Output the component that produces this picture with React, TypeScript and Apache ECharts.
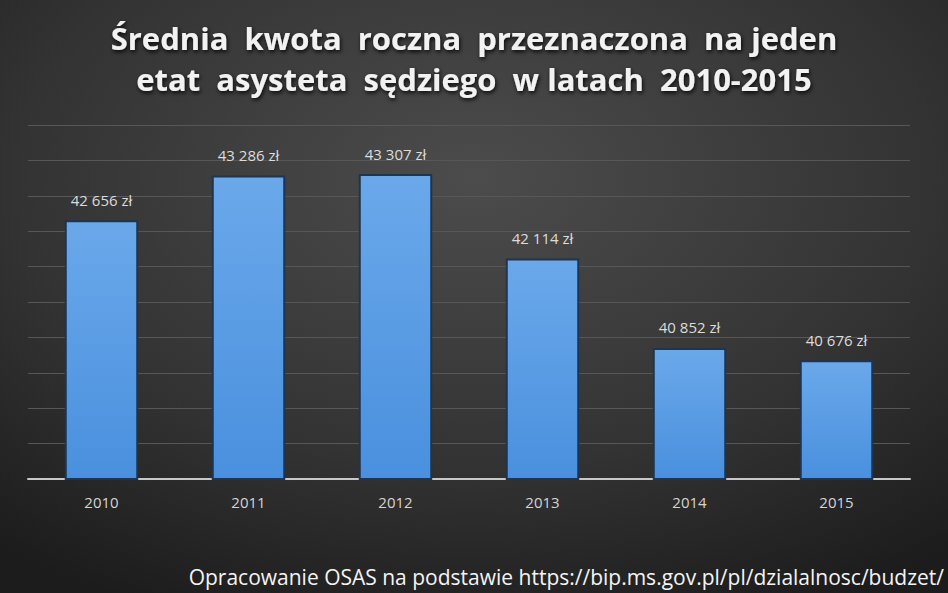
import React, { useEffect, useRef } from "react";
import * as echarts from "echarts";

const categories = ["2010", "2011", "2012", "2013", "2014", "2015"];
const values = [42656, 43286, 43307, 42114, 40852, 40676];
const titleLines = [
  "Średnia  kwota  roczna  przeznaczona  na jeden",
  "etat  asysteta  sędziego  w latach  2010-2015",
];
const sourceText = "Opracowanie OSAS na podstawie https://bip.ms.gov.pl/pl/dzialalnosc/budzet/";

const fmt = (v: number) => {
  const s = String(v);
  return s.slice(0, s.length - 3) + " " + s.slice(s.length - 3) + " zł";
};

export default function App() {
  const ref = useRef<HTMLDivElement>(null);
  useEffect(() => {
    document.body.style.margin = "0";
    const chart = echarts.init(ref.current!, null, { renderer: "svg" });
    chart.setOption({
      animation: false,
      backgroundColor: {
        type: "radial",
        x: 0.5,
        y: 0.3,
        r: 0.8,
        colorStops: [
          { offset: 0, color: "#4c4c4c" },
          { offset: 0.6, color: "#333333" },
          { offset: 1, color: "#1c1c1c" },
        ],
      },
      title: {
        text: titleLines.join("\n"),
        left: "center",
        top: 12,
        textStyle: {
          color: "#f2f2f2",
          fontFamily: "Open Sans",
          fontWeight: "bold",
          fontSize: 31,
          lineHeight: 41,
          textShadowColor: "rgba(0,0,0,0.9)",
          textShadowBlur: 4,
          textShadowOffsetX: 1,
          textShadowOffsetY: 2,
        },
      },
      grid: { left: 28, right: 38, top: 125, bottom: 114 },
      xAxis: {
        type: "category",
        data: categories,
        axisLine: { lineStyle: { color: "#c8c8c8", width: 2 } },
        axisTick: { show: false },
        axisLabel: {
          color: "#d4d4d4",
          fontFamily: "Open Sans",
          fontSize: 15,
          margin: 15,
        },
      },
      yAxis: {
        type: "value",
        min: 39000,
        max: 44000,
        interval: 500,
        axisLabel: { show: false },
        axisLine: { show: false },
        axisTick: { show: false },
        splitLine: { lineStyle: { color: "#575757", width: 1 } },
      },
      series: [
        {
          type: "bar",
          data: values,
          barCategoryGap: "50%",
          itemStyle: {
            color: {
              type: "linear",
              x: 0,
              y: 0,
              x2: 0,
              y2: 1,
              colorStops: [
                { offset: 0, color: "#6aa8ea" },
                { offset: 1, color: "#4a90de" },
              ],
            },
            borderColor: "#1d3550",
            borderWidth: 2,
          },
          label: {
            show: true,
            position: "top",
            distance: 13,
            color: "#dcdcdc",
            fontFamily: "Open Sans",
            fontSize: 15,
            formatter: (p: any) => fmt(p.value),
          },
        },
      ],
      graphic: [
        {
          type: "text",
          right: 4,
          top: 566,
          style: {
            text: sourceText,
            fill: "#f4f4f4",
            fontFamily: "Open Sans",
            fontSize: 21,
          },
        },
      ],
    });
    return () => chart.dispose();
  }, []);
  return <div ref={ref} style={{ width: 948, height: 593 }} />;
}
